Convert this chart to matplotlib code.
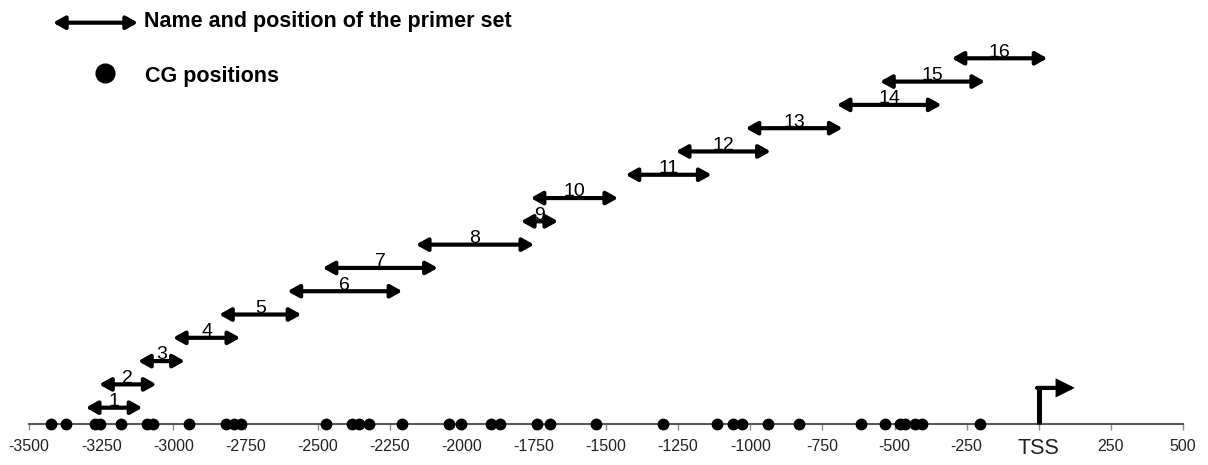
import matplotlib
matplotlib.use("Agg")
import matplotlib.pyplot as plt
from matplotlib.patches import FancyArrowPatch
from matplotlib.lines import Line2D

plt.rcParams["font.family"] = ["Liberation Sans", "DejaVu Sans"]

# primer sets: name, start, end (bp relative to TSS), row
primer_names = [str(i) for i in range(1, 17)]
primer_start = [-3303, -3257, -3122, -3001, -2841, -2604, -2482, -2159,
                -1795, -1761, -1432, -1258, -1016, -700, -550, -302]
primer_end = [-3107, -3058, -2960, -2768, -2556, -2206, -2083, -1749,
              -1666, -1458, -1134, -929, -680, -337, -186, 30]
primer_row = list(range(1, 17))

# CpG sites along the promoter
cg_pos = [-3425, -3371, -3272, -3255, -3180, -3090, -3069, -2946, -2818,
          -2790, -2766, -2471, -2379, -2356, -2321, -2206, -2044, -2003,
          -1899, -1868, -1740, -1694, -1536, -1304, -1116, -1060, -1027,
          -940, -831, -615, -534, -482, -464, -430, -403, -205]

xticks = list(range(-3500, 501, 250))
xticklabels = ["" if t == 0 else str(t) for t in xticks]

BASE = 0.3          # height of the axis line, rows sit at 1..16
DOUBLE = "<|-|>,head_length=0.75,head_width=0.42"

fig = plt.figure(figsize=(12.08, 4.65), dpi=100)
ax = fig.add_axes([29 / 1208, 41 / 465, 1154 / 1208, 389 / 465])
ax.set_xlim(-3500, 500)
ax.set_ylim(BASE, 17.0)

for s in ("top", "left", "right"):
    ax.spines[s].set_visible(False)
ax.spines["bottom"].set_color("#595959")
ax.spines["bottom"].set_linewidth(1.5)
ax.set_yticks([])
ax.set_xticks(xticks)
ax.set_xticklabels(xticklabels, fontsize=11.5, color="#222222")
ax.tick_params(axis="x", direction="out", length=4, width=1,
               color="#8c8c8c", pad=7)

# primer arrows with their names
for name, x0, x1, row in zip(primer_names, primer_start, primer_end, primer_row):
    arr = FancyArrowPatch((x0, row), (x1, row), arrowstyle=DOUBLE,
                          mutation_scale=9, lw=3, color="black",
                          shrinkA=0, shrinkB=0)
    ax.add_patch(arr)
    ax.annotate(name, ((x0 + x1) / 2, row), xytext=(0, 1.2),
                textcoords="offset points", ha="center", va="baseline",
                fontsize=14, color="black")

# CpG dots on the axis
ax.plot(cg_pos, [BASE] * len(cg_pos), "o", color="black", ms=7.5,
        clip_on=False, zorder=5)

# transcription start site marker
tss_y = BASE + 1.55
ax.plot([0, 0], [BASE, tss_y], color="black", lw=3.6,
        solid_capstyle="butt", clip_on=False, zorder=6)
ax.add_patch(FancyArrowPatch((-6, tss_y), (125, tss_y),
                             arrowstyle="-|>,head_length=0.9,head_width=0.45",
                             mutation_scale=10, lw=3, color="black",
                             shrinkA=0, shrinkB=0, joinstyle="miter"))
ax.text(0, -0.035, "TSS", transform=ax.get_xaxis_transform(),
        ha="center", va="top", fontsize=15.5, color="#222222")

# legend
fig.patches.append(FancyArrowPatch((53 / 1208, 0.9512), (138 / 1208, 0.9512),
                                   transform=fig.transFigure, arrowstyle=DOUBLE,
                                   mutation_scale=9, lw=3, color="black",
                                   shrinkA=0, shrinkB=0))
fig.text(144 / 1208, 0.9538, "Name and position of the primer set",
         ha="left", va="center", fontsize=15.5, fontweight="bold")
fig.lines.append(Line2D([105 / 1208], [0.8437], marker="o", color="black",
                        ms=13.5, transform=fig.transFigure))
fig.text(145 / 1208, 0.835, "CG positions",
         ha="left", va="center", fontsize=15.5, fontweight="bold")

fig.savefig("out.png", dpi=100)
